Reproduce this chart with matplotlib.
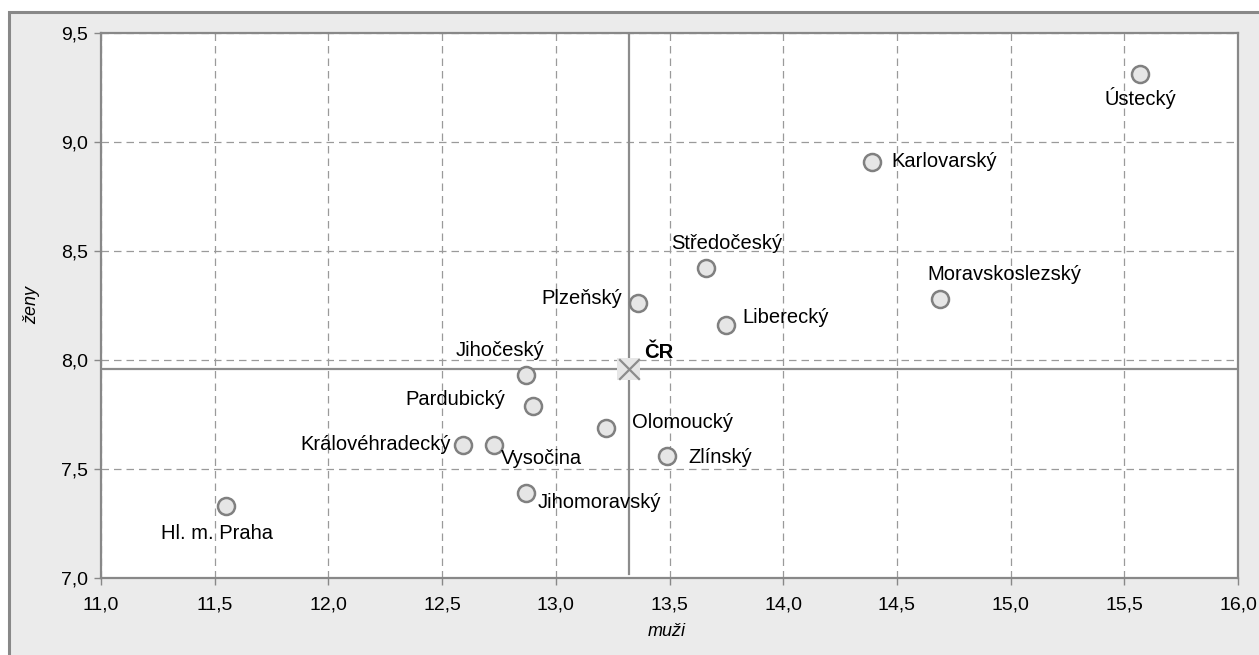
import matplotlib.pyplot as plt
from matplotlib.patches import Rectangle
from matplotlib.ticker import FuncFormatter, MultipleLocator

# ---------------------------
# Data (kraje, muži vs. ženy)
# ---------------------------
kraje = ["Hl. m. Praha", "Středočeský", "Jihočeský", "Plzeňský", "Karlovarský",
         "Ústecký", "Liberecký", "Královéhradecký", "Pardubický", "Vysočina",
         "Jihomoravský", "Olomoucký", "Zlínský", "Moravskoslezský"]
muzi = [11.55, 13.66, 12.87, 13.36, 14.39, 15.57, 13.75, 12.59, 12.90, 12.73,
        12.87, 13.22, 13.49, 14.69]
zeny = [7.33, 8.42, 7.93, 8.26, 8.91, 9.31, 8.16, 7.61, 7.79, 7.61,
        7.39, 7.69, 7.56, 8.28]
cr_label = "ČR"
cr_muzi = 13.32
cr_zeny = 7.96

# label placement (offset in pixels, alignment)
label_pos = {
    "Hl. m. Praha": (-9, -27, "center"),
    "Středočeský": (21, 25, "center"),
    "Jihočeský": (18, 25, "right"),
    "Plzeňský": (-16, 5, "right"),
    "Karlovarský": (19, 0, "left"),
    "Ústecký": (0, -24, "center"),
    "Liberecký": (16, 8, "left"),
    "Královéhradecký": (-12, 1, "right"),
    "Pardubický": (-28, 6, "right"),
    "Vysočina": (7, -13, "left"),
    "Jihomoravský": (11, -10, "left"),
    "Olomoucký": (26, 5, "left"),
    "Zlínský": (21, -2, "left"),
    "Moravskoslezský": (-13, 24, "left"),
}

plt.rcParams["font.family"] = ["Liberation Sans", "DejaVu Sans"]

fig = plt.figure(figsize=(12.59, 6.55), dpi=100, facecolor="white")
W, H = 1259, 655

# outer gray frame (right and bottom edges run off the picture)
fig.patches.append(Rectangle((9 / W, -0.2), 1.2, (H - 12) / H + 0.2, transform=fig.transFigure,
                             facecolor="#EBEBEB", edgecolor="#888888", linewidth=2.2,
                             zorder=-10))

ax = fig.add_axes([101 / W, (H - 578) / H, (1238 - 101) / W, (578 - 33) / H])
ax.set_facecolor("white")

ax.set_xlim(11, 16)
ax.set_ylim(7, 9.5)
ax.xaxis.set_major_locator(MultipleLocator(0.5))
ax.yaxis.set_major_locator(MultipleLocator(0.5))
fmt = FuncFormatter(lambda v, p: f"{v:.1f}".replace(".", ","))
ax.xaxis.set_major_formatter(fmt)
ax.yaxis.set_major_formatter(fmt)

ax.grid(True, color="#9A9A9A", linestyle=(0, (6, 4)), linewidth=0.9)
ax.set_axisbelow(True)
for s in ax.spines.values():
    s.set_color("#888888")
    s.set_linewidth(1.6)
ax.tick_params(colors="#888888", labelcolor="black", labelsize=14, length=5, width=1)
ax.tick_params(axis="x", pad=8)
ax.tick_params(axis="y", pad=4)

# ČR reference lines
ax.plot([cr_muzi, cr_muzi], [7.02, 9.5], color="#8C8C8C", linewidth=1.6, zorder=2)
ax.axhline(cr_zeny, color="#8C8C8C", linewidth=1.6, zorder=2)

ax.scatter(muzi, zeny, s=150, facecolor="#E6E6E6", edgecolor="#808080",
           linewidth=1.8, zorder=4)

ax.scatter([cr_muzi], [cr_zeny], s=260, marker="s", facecolor="#E6E6E6",
           edgecolor="none", zorder=3)
ax.scatter([cr_muzi], [cr_zeny], s=220, marker="x", color="#8C8C8C",
           linewidth=1.6, zorder=4)
ax.annotate(cr_label, (cr_muzi, cr_zeny), xytext=(16, 16), textcoords="offset pixels",
            ha="left", va="center", fontsize=14.5, fontweight="bold", zorder=5)

for name, x, y in zip(kraje, muzi, zeny):
    dx, dy, ha = label_pos[name]
    ax.annotate(name, (x, y), xytext=(dx, dy), textcoords="offset pixels",
                ha=ha, va="center", fontsize=14.5, zorder=5)

ax.set_xlabel("muži", fontsize=13, fontstyle="italic", va="center")
ax.set_ylabel("ženy", fontsize=13, fontstyle="italic", va="center")
ax.xaxis.set_label_coords(566 / 1137, -54 / 545)
ax.yaxis.set_label_coords(-69 / 1137, 0.5)

fig.savefig("out.png", dpi=100, facecolor=fig.get_facecolor())
